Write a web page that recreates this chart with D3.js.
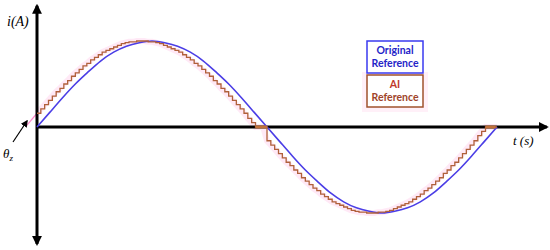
<!DOCTYPE html>
<html lang="en">
<head>
<meta charset="UTF-8">
<title>Reference current</title>
<style>
  body { margin: 0; background: #fff; }
  svg { display: block; }
</style>
</head>
<body>
<svg id="container" width="550" height="250"></svg>
<script src="https://cdn.jsdelivr.net/npm/d3@7/dist/d3.min.js"></script>
<script>

// angle (deg) and current (per unit) of the original reference
let blueT = [0,10,20,30,40,50,60,70,80,90,100,110,120,130,140,150,160,170,180,
             190,200,210,220,230,240,250,260,270,280,290,300,310,320,330,340,350,360]
let blueI = [0,0.17,0.34,0.5,0.64,0.77,0.87,0.94,0.98,1,0.98,0.94,0.87,0.77,0.64,0.5,0.34,0.17,0,
             -0.17,-0.34,-0.5,-0.64,-0.77,-0.87,-0.94,-0.98,-1,-0.98,-0.94,-0.87,-0.77,-0.64,-0.5,-0.34,-0.17,0]

// AI reference, sampled every 3 deg, leading by theta_z
let redT = d3.range(0, 361, 3)
let redI = [0.16,0.21,0.26,0.31,0.36,0.41,0.45,0.5,0.54,0.59,0.63,0.67,0.71,0.74,0.78,0.81,0.84,0.87,0.89,0.91,
            0.93,0.95,0.97,0.98,0.99,0.99,1,1,1,0.99,0.99,0.98,0.97,0.95,0.93,0.91,0.89,0.87,0.84,0.81,
            0.78,0.74,0.71,0.67,0.63,0.59,0.54,0.5,0.45,0.41,0.36,0.31,0.26,0.21,0.16,0.1,0.05,0,0,0,
            -0.16,-0.21,-0.26,-0.31,-0.36,-0.41,-0.45,-0.5,-0.54,-0.59,-0.63,-0.67,-0.71,-0.74,-0.78,-0.81,-0.84,-0.87,-0.89,-0.91,
            -0.93,-0.95,-0.97,-0.98,-0.99,-0.99,-1,-1,-1,-0.99,-0.99,-0.98,-0.97,-0.95,-0.93,-0.91,-0.89,-0.87,-0.84,-0.81,
            -0.78,-0.74,-0.71,-0.67,-0.63,-0.59,-0.54,-0.5,-0.45,-0.41,-0.36,-0.31,-0.26,-0.21,-0.16,-0.1,-0.05,0,0,0,0]

// the pink lead-in left of the i axis
let leadT = [-8, 0]
let leadI = [0.02, 0.16]

let legendLabels = [["Original", "Reference"], ["AI", "Reference"]]

let svg = d3.select("#container")

let x = d3.scaleLinear().domain([0, 360]).range([37, 497])
let y = d3.scaleLinear().domain([-1, 1]).range([213, 41])

let blueData = blueT.map((t, i) => ({t: t, v: blueI[i]}))
let redData = redT.map((t, i) => ({t: t, v: redI[i]}))
let leadData = leadT.map((t, i) => ({t: t, v: leadI[i]}))

let defs = svg.append("defs")
defs.append("marker")
    .attr("id", "head")
    .attr("viewBox", "0 0 10 10")
    .attr("refX", 8).attr("refY", 5)
    .attr("markerWidth", 3.3).attr("markerHeight", 3.3)
    .attr("orient", "auto-start-reverse")
    .append("path")
    .attr("d", "M0,0L10,5L0,10z")
    .attr("fill", "#000")

defs.append("marker")
    .attr("id", "thin")
    .attr("viewBox", "0 0 10 10")
    .attr("refX", 8).attr("refY", 5)
    .attr("markerWidth", 6).attr("markerHeight", 6)
    .attr("orient", "auto")
    .append("path")
    .attr("d", "M0,0L10,5L0,10z")
    .attr("fill", "#000")

// pink halo behind the stepped line
let smooth = d3.line().x(d => x(d.t)).y(d => y(d.v))
svg.append("path")
    .datum(redData)
    .attr("d", smooth)
    .attr("fill", "none")
    .attr("stroke", "#ffc8e8")
    .attr("stroke-width", 6)
    .attr("stroke-opacity", 0.4)
svg.append("path")
    .datum(leadData)
    .attr("d", smooth)
    .attr("fill", "none")
    .attr("stroke", "#ff88cc")
    .attr("stroke-width", 1.2)

// axes
svg.append("line")
    .attr("x1", x(0)).attr("y1", y(0))
    .attr("x2", x(399)).attr("y2", y(0))
    .attr("stroke", "#000").attr("stroke-width", 3)
    .attr("marker-end", "url(#head)")
svg.append("line")
    .attr("x1", x(0)).attr("y1", y(-1.36))
    .attr("x2", x(0)).attr("y2", y(1.41))
    .attr("stroke", "#000").attr("stroke-width", 3)
    .attr("marker-start", "url(#head)")
    .attr("marker-end", "url(#head)")

// blue original reference
svg.append("path")
    .datum(blueData)
    .attr("d", d3.line().x(d => x(d.t)).y(d => y(d.v)).curve(d3.curveNatural))
    .attr("fill", "none")
    .attr("stroke", "#4b3ee6")
    .attr("stroke-width", 1.6)

// stepped AI reference
svg.append("path")
    .datum(redData)
    .attr("d", d3.line().x(d => x(d.t)).y(d => y(d.v)).curve(d3.curveStepAfter))
    .attr("fill", "none")
    .attr("stroke", "#b0603a")
    .attr("stroke-width", 1.3)
svg.append("line")
    .attr("x1", x(171)).attr("y1", y(0))
    .attr("x2", x(180)).attr("y2", y(0))
    .attr("stroke", "#c0703a").attr("stroke-width", 3)
svg.append("line")
    .attr("x1", x(351)).attr("y1", y(0))
    .attr("x2", x(359)).attr("y2", y(0))
    .attr("stroke", "#c0703a").attr("stroke-width", 3)

// labels
svg.append("text")
    .attr("x", 7).attr("y", 26)
    .attr("font-family", "Liberation Serif").attr("font-style", "italic")
    .attr("font-size", 14)
    .text("i(A)")
svg.append("text")
    .attr("x", 513).attr("y", 145)
    .attr("font-family", "Liberation Serif").attr("font-style", "italic")
    .attr("font-size", 13)
    .text("t (s)")
let th = svg.append("text")
    .attr("x", 3).attr("y", 158)
    .attr("font-family", "Liberation Serif").attr("font-style", "italic")
    .attr("font-size", 13)
th.append("tspan").text("θ")
th.append("tspan").attr("font-size", 9).attr("dy", 3).text("z")

svg.append("line")
    .attr("x1", 13).attr("y1", 142)
    .attr("x2", 27).attr("y2", 121)
    .attr("stroke", "#000").attr("stroke-width", 1.2)
    .attr("marker-end", "url(#thin)")

// legend boxes
let boxColors = ["#3a3af0", "#a0522d"]
let textColors = [["#2424c8", "#2424c8"], ["#c0392b", "#a0442a"]]
let boxTop = [41, 75]

svg.append("rect")
    .attr("x", 362).attr("y", 72).attr("width", 66).attr("height", 40)
    .attr("fill", "#fff0f8")

legendLabels.forEach((lines, k) => {
    svg.append("rect")
        .attr("x", 367).attr("y", boxTop[k])
        .attr("width", 56).attr("height", 32)
        .attr("fill", "#fff")
        .attr("stroke", boxColors[k])
        .attr("stroke-width", 1.5)
    lines.forEach((s, j) => {
        svg.append("text")
            .attr("x", 395)
            .attr("y", boxTop[k] + 13 + j * 13)
            .attr("text-anchor", "middle")
            .attr("font-family", "Lato")
            .attr("font-weight", "bold")
            .attr("font-size", 10.5)
            .attr("fill", textColors[k][j])
            .text(s)
    })
})

</script>
</body>
</html>
